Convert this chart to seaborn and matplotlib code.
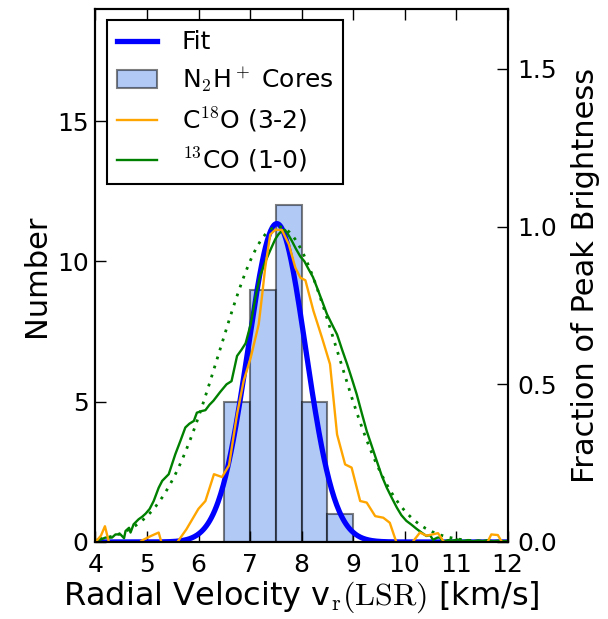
import numpy as np
import pandas as pd
import seaborn as sns
import matplotlib.pyplot as plt
from matplotlib.lines import Line2D
from matplotlib.patches import Patch

# N2H+ core velocity histogram (bin edges + counts)
bin_edges = [6.5, 7.0, 7.5, 8.0, 8.5, 9.0]
core_counts = [5, 9, 12, 5, 1]

# gaussian fit to the cores: amplitude, centre, sigma
fit_amp, fit_mu, fit_sigma = 11.35, 7.52, 0.56
# gaussian fit to 13CO (fraction of peak)
co_amp, co_mu, co_sigma = 1.0, 7.55, 1.14
frac_top = 1.69

# C18O (3-2) spectrum, fraction of peak brightness
c18o_v = [3.95, 4.106, 4.184, 4.291, 4.399, 4.545, 4.642, 4.789, 4.906, 5.062, 5.227,
          5.296, 5.422, 5.569, 5.764, 5.998, 6.134, 6.300, 6.456, 6.592, 6.748, 6.875,
          7.012, 7.168, 7.236, 7.294, 7.392, 7.489, 7.616, 7.753, 7.879, 7.977, 8.074,
          8.230, 8.396, 8.552, 8.689, 8.845, 8.971, 9.137, 9.264, 9.429, 9.586, 9.712,
          9.849, 10.005, 10.132, 10.297, 10.424, 10.648, 10.785, 10.931, 11.126, 11.370,
          11.594, 11.682, 11.809, 11.906, 12.1]
c18o_f = [-0.01, 0.02, 0.05, -0.02, -0.03, -0.005, -0.03, -0.01, 0.005, 0.018, 0.03,
          -0.01, -0.04, -0.005, 0.04, 0.105, 0.13, 0.215, 0.206, 0.243, 0.405, 0.51,
          0.584, 0.69, 0.785, 0.87, 0.975, 0.99, 0.99, 0.944, 0.87, 0.838, 0.83,
          0.733, 0.648, 0.564, 0.341, 0.246, 0.236, 0.13, 0.125, 0.082, 0.077, 0.061,
          -0.005, -0.04, -0.005, 0.03, 0.02, 0.028, -0.005, -0.03, -0.02, -0.04,
          -0.005, 0.024, 0.022, -0.005, -0.02]

# 13CO (1-0) spectrum, fraction of peak brightness
co_v = [3.95, 4.106, 4.194, 4.321, 4.389, 4.486, 4.555, 4.584, 4.652, 4.681, 4.740,
        4.837, 4.906, 4.974, 5.052, 5.130, 5.227, 5.296, 5.422, 5.549, 5.647, 5.744,
        5.822, 5.910, 5.968, 6.056, 6.134, 6.212, 6.290, 6.417, 6.544, 6.641, 6.748,
        6.836, 6.914, 7.012, 7.109, 7.197, 7.294, 7.392, 7.489, 7.548, 7.616, 7.675,
        7.733, 7.811, 7.889, 7.977, 8.055, 8.133, 8.221, 8.299, 8.396, 8.494, 8.591,
        8.689, 8.786, 8.884, 8.981, 9.069, 9.166, 9.264, 9.361, 9.459, 9.556, 9.654,
        9.751, 9.849, 9.937, 10.034, 10.132, 10.229, 10.327, 10.424, 10.492, 10.551,
        10.638, 10.687, 10.746, 10.843, 10.931, 11.029, 11.126, 11.224, 11.321,
        11.419, 11.516, 11.614, 11.711, 11.809, 11.906, 12.05]
co_f = [0.005, 0.008, 0.014, 0.014, 0.024, 0.024, 0.012, 0.035, 0.045, 0.03, 0.056,
        0.072, 0.08, 0.09, 0.105, 0.13, 0.172, 0.194, 0.215, 0.278, 0.32, 0.363,
        0.375, 0.384, 0.41, 0.415, 0.418, 0.435, 0.448, 0.475, 0.50, 0.51, 0.59,
        0.61, 0.63, 0.69, 0.78, 0.845, 0.888, 0.925, 0.96, 0.975, 0.987, 0.99,
        0.977, 0.955, 0.93, 0.905, 0.89, 0.866, 0.84, 0.807, 0.765, 0.722, 0.69,
        0.658, 0.61, 0.564, 0.515, 0.469, 0.41, 0.352, 0.305, 0.257, 0.21, 0.172,
        0.14, 0.109, 0.085, 0.067, 0.055, 0.042, 0.03, 0.019, 0.022, 0.007,
        0.014, 0.014, 0.0, 0.006, 0.004, 0.008, 0.003, 0.006, 0.002,
        0.005, 0.003, 0.006, 0.002, 0.004, 0.003, 0.003]

plt.rcParams['font.family'] = 'DejaVu Sans'
plt.rcParams['mathtext.fontset'] = 'cm'
plt.rcParams['xtick.direction'] = 'in'
plt.rcParams['ytick.direction'] = 'in'
plt.rcParams['axes.linewidth'] = 1.5

fig = plt.figure(figsize=(6.08, 6.19), dpi=100)
ax = fig.add_axes([0.157, 0.1244, 0.678, 0.861])

centres = [(a + b) / 2 for a, b in zip(bin_edges[:-1], bin_edges[1:])]
sns.histplot(x=centres, weights=core_counts, bins=bin_edges,
             facecolor=(0.392, 0.584, 0.929, 0.5), edgecolor=(0, 0, 0, 0.5),
             linewidth=1.5, ax=ax)

vv = np.linspace(3.9, 12.1, 500)
fit_df = pd.DataFrame({'v': vv, 'n': fit_amp * np.exp(-0.5 * ((vv - fit_mu) / fit_sigma) ** 2)})
sns.lineplot(data=fit_df, x='v', y='n', color='blue', linewidth=3.8, ax=ax)

ax.set_xlim(4, 12)
ax.set_ylim(0, 19)
ax.set_xticks(range(4, 13))
ax.set_yticks([0, 5, 10, 15])
ax.tick_params(axis='x', labelsize=18, length=8, width=1, top=True, pad=8)
ax.tick_params(axis='y', labelsize=18, length=8, width=1, right=False, pad=5)
ax.set_xlabel(r'Radial Velocity v$_\mathrm{r}\mathrm{(LSR)}$ [km/s]', fontsize=23, labelpad=2)
ax.set_ylabel('Number', fontsize=22)

ax2 = ax.twinx()
co_df = pd.DataFrame({'v': vv, 'f': co_amp * np.exp(-0.5 * ((vv - co_mu) / co_sigma) ** 2)})
sns.lineplot(data=co_df, x='v', y='f', color='green', linewidth=2, ax=ax2,
             linestyle=(0, (1, 2.4)))
sns.lineplot(x=co_v, y=co_f, color='green', linewidth=1.7, ax=ax2)
sns.lineplot(x=c18o_v, y=c18o_f, color='orange', linewidth=1.7, ax=ax2)
ax2.set_xlim(4, 12)
ax2.set_ylim(0, frac_top)
ax2.set_yticks([0.0, 0.5, 1.0, 1.5])
ax2.set_yticklabels(['0.0', '0.5', '1.0', '1.5'])
ax2.tick_params(labelsize=18, length=8, width=1, pad=7)
ax2.set_ylabel('Fraction of Peak Brightness', fontsize=22, labelpad=10)

handles = [Line2D([], [], color='blue', linewidth=3.8),
           Patch(facecolor=(0.392, 0.584, 0.929, 0.5), edgecolor=(0, 0, 0, 0.5), linewidth=1.5),
           Line2D([], [], color='orange', linewidth=1.7),
           Line2D([], [], color='green', linewidth=1.7)]
labels = ['Fit', r'N$_2$H$^+$ Cores', r'C$^{18}$O (3-2)', r'$^{13}$CO (1-0)']
leg = ax2.legend(handles, labels, loc='upper left', fontsize=18, fancybox=False,
                 framealpha=1, edgecolor='black', labelspacing=0.45, handlelength=1.6,
                 handletextpad=1.0, borderaxespad=0.45, borderpad=0.4)
leg.get_frame().set_linewidth(1.5)

fig.savefig('out.png', dpi=100)
